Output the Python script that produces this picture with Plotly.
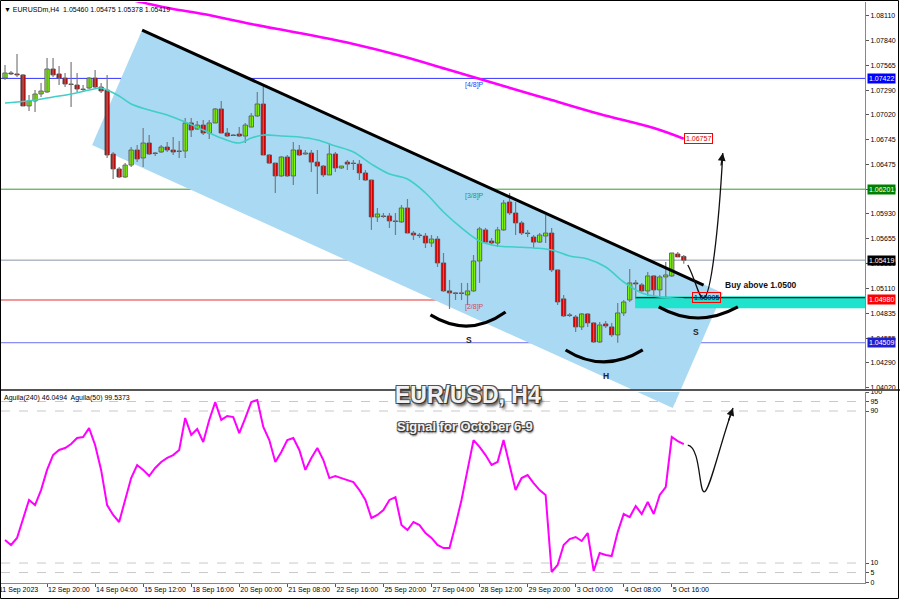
import plotly.graph_objects as go

# ---------------- data ----------------
bar_index = list(range(114))
opens = [1.07426,1.07482,1.07471,1.07460,1.07118,1.07173,1.07250,1.07272,1.07526,1.07471,
         1.07426,1.07360,1.07349,1.07305,1.07316,1.07426,1.07327,1.07294,1.06589,1.06424,
         1.06335,1.06467,1.06633,1.06545,1.06710,1.06600,1.06611,1.06666,1.06633,1.06622,
         1.06622,1.06931,1.06864,1.06908,1.06820,1.06931,1.07085,1.06820,1.06798,1.06809,
         1.06787,1.06886,1.07008,1.07140,1.06578,1.06489,1.06347,1.06556,1.06347,1.06633,
         1.06589,1.06600,1.06500,1.06456,1.06358,1.06589,1.06435,1.06500,1.06489,1.06478,
         1.06380,1.06302,1.05895,1.05906,1.05906,1.05851,1.05840,1.05994,1.05718,1.05696,
         1.05685,1.05608,1.05652,1.05388,1.05080,1.05058,1.05058,1.05036,1.05080,1.05410,
         1.05752,1.05630,1.05608,1.05752,1.06060,1.05939,1.05829,1.05718,1.05674,1.05618,
         1.05685,1.05718,1.05311,1.04992,1.04815,1.04793,1.04683,1.04826,1.04727,1.04517,
         1.04716,1.04683,1.04595,1.04837,1.04980,1.05168,1.05146,1.05080,1.05245,1.05091,
         1.05234,1.05245,1.05487,1.05460]
highs = [1.07570,1.07504,1.07691,1.07470,1.07239,1.07294,1.07371,1.07647,1.07647,1.07559,
         1.07482,1.07603,1.07482,1.07349,1.07437,1.07515,1.07371,1.07460,1.06611,1.06446,
         1.06489,1.06666,1.06688,1.06875,1.06798,1.06611,1.06688,1.06721,1.06776,1.06732,
         1.06986,1.06986,1.06953,1.06964,1.06964,1.07096,1.07173,1.06875,1.06809,1.06886,
         1.06931,1.07041,1.07272,1.07360,1.06589,1.06489,1.06567,1.06578,1.06721,1.06688,
         1.06633,1.06633,1.06633,1.06467,1.06710,1.06611,1.06456,1.06522,1.06522,1.06522,
         1.06412,1.06302,1.05994,1.05939,1.05939,1.05939,1.06027,1.06093,1.05741,1.05718,
         1.05718,1.05696,1.05685,1.05498,1.05201,1.05069,1.05168,1.05168,1.05476,1.05785,
         1.05774,1.05663,1.05785,1.06082,1.06159,1.06060,1.05851,1.05752,1.05696,1.05718,
         1.05917,1.05774,1.05311,1.05036,1.04837,1.04815,1.04837,1.04837,1.04738,1.04738,
         1.04749,1.04727,1.04947,1.04980,1.05322,1.05201,1.05168,1.05289,1.05256,1.05256,
         1.05399,1.05498,1.05509,1.05475]
lows = [1.07404,1.07460,1.07437,1.07118,1.07063,1.07052,1.07217,1.07265,1.07437,1.07349,
        1.07327,1.07107,1.07272,1.07272,1.07305,1.07316,1.07261,1.06545,1.06313,1.06324,
        1.06324,1.06446,1.06500,1.06446,1.06578,1.06567,1.06600,1.06611,1.06578,1.06545,
        1.06545,1.06776,1.06853,1.06798,1.06754,1.06931,1.06820,1.06776,1.06787,1.06776,
        1.06710,1.06886,1.06997,1.06578,1.06478,1.06159,1.06335,1.06335,1.06247,1.06567,
        1.06578,1.06391,1.06148,1.06335,1.06358,1.06391,1.06424,1.06412,1.06412,1.06302,
        1.06291,1.05752,1.05840,1.05884,1.05774,1.05696,1.05829,1.05718,1.05641,1.05663,
        1.05553,1.05564,1.05344,1.05069,1.04881,1.04980,1.04980,1.04925,1.05069,1.05168,
        1.05608,1.05586,1.05564,1.05741,1.05917,1.05696,1.05696,1.05674,1.05553,1.05608,
        1.05608,1.05289,1.04925,1.04793,1.04793,1.04628,1.04650,1.04683,1.04509,1.04506,
        1.04672,1.04573,1.04509,1.04804,1.04958,1.05003,1.05069,1.05025,1.05014,1.05014,
        1.05003,1.05234,1.05454,1.05378]
closes = [1.07482,1.07471,1.07460,1.07118,1.07173,1.07250,1.07283,1.07526,1.07460,1.07426,
          1.07360,1.07355,1.07305,1.07300,1.07426,1.07327,1.07283,1.06578,1.06424,1.06335,
          1.06467,1.06633,1.06534,1.06710,1.06589,1.06595,1.06666,1.06633,1.06611,1.06617,
          1.06931,1.06853,1.06908,1.06820,1.06931,1.07085,1.06820,1.06787,1.06793,1.06787,
          1.06908,1.07008,1.07140,1.06578,1.06489,1.06347,1.06556,1.06347,1.06633,1.06578,
          1.06600,1.06500,1.06456,1.06358,1.06589,1.06435,1.06456,1.06478,1.06484,1.06380,
          1.06302,1.05895,1.05928,1.05900,1.05851,1.05845,1.05994,1.05718,1.05696,1.05690,
          1.05608,1.05652,1.05388,1.05080,1.05058,1.05052,1.05052,1.05080,1.05410,1.05763,
          1.05618,1.05608,1.05752,1.06049,1.05939,1.05829,1.05718,1.05712,1.05618,1.05696,
          1.05718,1.05311,1.04958,1.04804,1.04810,1.04683,1.04826,1.04727,1.04517,1.04705,
          1.04694,1.04595,1.04837,1.04958,1.05168,1.05157,1.05080,1.05245,1.05091,1.05234,
          1.05256,1.05498,1.05454,1.05419]

# moving average (teal) read at selected bars
ma_bars = [0,2,5,8,11,14,16,17,19,21,24,27,30,33,36,39,41,43,46,49,52,55,58,61,64,67,70,73,76,79,82,85,88,91,94,97,100,103,106,109,113]
ma_vals = [1.07151,1.07162,1.07184,1.07217,1.07250,1.07294,1.07316,1.07294,1.07228,1.07140,
           1.07074,1.07019,1.06942,1.06853,1.06765,1.06710,1.06765,1.06798,1.06787,1.06776,
           1.06743,1.06677,1.06611,1.06478,1.06369,1.06313,1.06159,1.05950,1.05774,1.05630,
           1.05575,1.05564,1.05553,1.05531,1.05465,1.05432,1.05344,1.05178,1.05058,1.05014,1.04992]

# long moving average (magenta)
lma_bars = [19,24,28,33,41,49,58,66,74,83,91,99,108,113]
lma_vals = [1.08319,1.08242,1.08187,1.08132,1.08021,1.07922,1.07801,1.07669,1.07515,1.07338,
            1.07184,1.07030,1.06875,1.06757]

# oscillator (Aguila), one value per bar
osc_vals = [22.1,19.5,23.2,32.6,43.2,40.5,48.4,59.0,66.8,69.5,
            70.5,72.6,75.8,76.3,81.0,72.1,59.0,40.5,35.3,31.6,
            43.2,54.7,61.6,59.0,55.8,60.0,63.2,65.3,66.8,69.5,
            86.3,77.4,80.5,73.7,85.3,94.7,85.3,87.4,86.8,78.4,
            86.3,94.7,95.8,81.6,74.7,63.2,68.4,74.7,75.8,69.5,
            59.0,65.3,70.5,64.2,54.7,55.8,54.7,53.7,52.6,48.4,
            43.2,33.7,35.3,37.9,43.2,44.7,30.0,27.4,31.6,30.0,
            25.8,23.2,19.5,17.9,17.9,30.0,43.2,59.0,74.7,71.1,
            66.8,61.6,63.2,74.7,61.6,48.4,54.7,56.3,52.1,48.4,
            45.8,5.3,9.0,19.5,22.6,23.7,21.6,25.8,5.8,15.3,
            14.2,13.7,26.3,35.8,34.2,40.0,35.8,42.1,35.8,45.8,
            50.0,76.3,74.2,72.6]

price_ticks = [1.08110,1.07840,1.07565,1.07290,1.07020,1.06745,1.06475,1.06200,1.05930,
               1.05655,1.05380,1.05110,1.04835,1.04555,1.04290,1.04020]
osc_ticks = [0,5,10,90,95,100]
date_labels = ["12 Sep 20:00","14 Sep 04:00","15 Sep 12:00","18 Sep 16:00","20 Sep 00:00",
               "21 Sep 08:00","22 Sep 16:00","25 Sep 20:00","27 Sep 04:00","28 Sep 12:00",
               "29 Sep 20:00","3 Oct 00:00","4 Oct 08:00","5 Oct 16:00"]
date_bars = [7 + 8 * k for k in range(len(date_labels))]

levels = [  # value, label colour, line colour
    (1.07422, "#0000ff", "#3333ff"),
    (1.06201, "#008000", "#339933"),
    (1.05419, "#000000", "#8a93a6"),
    (1.04980, "#ff0000", "#e53030"),
    (1.04509, "#1f1fd0", "#7070f0"),
]
murrey = [(1.07422, "[4/8]P", "#3333ff"), (1.06201, "[3/8]P", "#339933"), (1.04980, "[2/8]P", "#d05050")]
buy_level = 1.05005
zone = (1.04890, 1.05022)
ma_end = 1.06757

# ---------------- layout helpers ----------------
FONT = "Liberation Sans"
W, H = 900, 600
ML, MR, MT, MB = 1, 35, 2, 17
PW, PH = W - ML - MR, H - MT - MB


def px(x):
    return (x - ML) / PW


def py(y):
    return (H - MB - y) / PH


X_RANGE = [-0.667, 143.17]
Y_RANGE = [1.03999, 1.08264]
O_RANGE = [-0.5, 100]

fig = go.Figure()

# candle wicks
wx, wy = [], []
for i, h, l in zip(bar_index, highs, lows):
    wx += [i, i, None]
    wy += [h, l, None]
fig.add_trace(go.Scatter(x=wx, y=wy, mode="lines", line=dict(color="#7a7a7a", width=1.2),
                         xaxis="x", yaxis="y", showlegend=False, hoverinfo="skip"))
# candle bodies
body_base = [min(o, c) for o, c in zip(opens, closes)]
body_len = [max(abs(c - o), 0.000025) for o, c in zip(opens, closes)]
body_col = ["#7cfc00" if c > o else "#d40000" for o, c in zip(opens, closes)]
fig.add_trace(go.Bar(x=bar_index, y=body_len, base=body_base, width=0.72, marker=dict(color=body_col,
                     line=dict(color="#4a4a4a", width=0.8)), xaxis="x", yaxis="y",
                     showlegend=False, hoverinfo="skip"))

fig.add_trace(go.Scatter(x=ma_bars, y=ma_vals, mode="lines", line=dict(color="#3fcfc6", width=1.6, shape="spline"),
                         xaxis="x", yaxis="y", showlegend=False, hoverinfo="skip"))
fig.add_trace(go.Scatter(x=lma_bars, y=lma_vals, mode="lines", line=dict(color="#ff00ff", width=2.6, shape="spline"),
                         xaxis="x", yaxis="y", showlegend=False, hoverinfo="skip"))
fig.add_trace(go.Scatter(x=bar_index, y=osc_vals, mode="lines", line=dict(color="#ff00ff", width=2),
                         xaxis="x2", yaxis="y2", showlegend=False, hoverinfo="skip"))

shapes = []
# channel (drawn in background), anchors in (bar, price)
chan = [(22.83, 1.07955), (119.5, 1.05057), (111.17, 1.03790), (14.5, 1.06688)]
path = "M " + " L ".join(f"{b},{p}" for b, p in chan) + " Z"
shapes.append(dict(type="path", path=path, xref="x", yref="y", fillcolor="#a9d9f3", line=dict(width=0), layer="below"))


def osc_from_price(p):
    # same drawing continued into the lower pane
    ypx = (1.08286 - p) / 0.0001102
    return (582 - ypx) / 1.9


path2 = "M " + " L ".join(f"{b},{osc_from_price(p)}" for b, p in chan) + " Z"
shapes.append(dict(type="path", path=path2, xref="x2", yref="y2", fillcolor="#a9d9f3", line=dict(width=0), layer="below"))

# zone
shapes.append(dict(type="rect", xref="x", yref="y", x0=104.9, x1=X_RANGE[1], y0=zone[0], y1=zone[1],
                   fillcolor="#1fe3cc", line=dict(width=0), layer="below"))
# horizontal levels
for v, _, lc in levels:
    shapes.append(dict(type="line", xref="paper", x0=0, x1=1, yref="y", y0=v, y1=v,
                       line=dict(color=lc, width=1), layer="below"))
shapes.append(dict(type="line", xref="x", x0=104.9, x1=X_RANGE[1], yref="y", y0=buy_level, y1=buy_level,
                   line=dict(color="#000000", width=1), layer="below"))
# oscillator levels
for v in [5, 10, 90, 95]:
    shapes.append(dict(type="line", xref="paper", x0=0, x1=1, yref="y2", y0=v, y1=v,
                       line=dict(color="#c8c8c8", width=1, dash="dash"), layer="below"))

# trend line
shapes.append(dict(type="line", xref="x", yref="y", x0=22.83, y0=1.07955, x1=116.3, y1=1.05145,
                   line=dict(color="#000000", width=3)))
# arcs under shoulders / head
arcs = [((70.83, 1.04815), (77.17, 1.04556), (83.33, 1.04848)),
        ((93.33, 1.04429), (99.67, 1.04165), (106.17, 1.04429)),
        ((108.83, 1.04903), (115.33, 1.04660), (122.0, 1.04903))]
for a, c, b in arcs:
    shapes.append(dict(type="path", xref="x", yref="y",
                       path=f"M {a[0]},{a[1]} Q {c[0]},{c[1]} {b[0]},{b[1]}",
                       line=dict(color="#000000", width=3.2)))
# projected path (price)
shapes.append(dict(type="path", xref="x", yref="y",
                   path="M 113.67,1.05365 C 115,1.05200 115.5,1.04990 116.3,1.05000 C 117.5,1.05010 118.8,1.05750 119.5,1.06600",
                   line=dict(color="#111111", width=1.3)))
# projected path (oscillator)
shapes.append(dict(type="path", xref="x2", yref="y2",
                   path="M 113.67,72.1 C 115.8,71.0 115.5,47.4 116.4,47.4 C 117.3,47.4 119.2,74.7 121.2,91.6",
                   line=dict(color="#111111", width=1.3)))

# frame / separators
shapes.append(dict(type="line", xref="paper", yref="paper", x0=px(0), x1=px(900), y0=py(390), y1=py(390),
                   line=dict(color="#555555", width=2)))
shapes.append(dict(type="rect", xref="paper", yref="paper", x0=px(0.5), x1=px(898.5), y0=py(0.5), y1=py(598.5),
                   line=dict(color="#000000", width=1)))

ann = []
ann.append(dict(xref="paper", yref="paper", x=px(2), y=py(9), xanchor="left", yanchor="middle",
                text="▼ EURUSDm,H4  1.05460 1.05475 1.05378 1.05419", showarrow=False,
                font=dict(size=7, color="#000000", family=FONT)))
ann.append(dict(xref="paper", yref="paper", x=px(2), y=py(398), xanchor="left", yanchor="middle",
                text="Aguila(240) 46.0494  Aguila(50) 99.5373", showarrow=False,
                font=dict(size=7, color="#000000", family=FONT)))
for v, bg, _ in levels:
    ann.append(dict(xref="paper", x=1, xanchor="left", xshift=2, yref="y", y=v, yanchor="middle",
                    text=f"{v:.5f}", showarrow=False, bgcolor=bg, borderpad=1,
                    font=dict(size=7, color="#ffffff", family=FONT)))
for v, t, c in murrey:
    ann.append(dict(xref="x", x=76.2, xanchor="left", yref="y", y=v, yanchor="top", yshift=-1,
                    text=t, showarrow=False, font=dict(size=7, color=c, family=FONT)))
ann.append(dict(xref="x", x=115.5, yref="y", y=ma_end, text=f"{ma_end:.5f}", showarrow=False,
                bordercolor="#ff0000", borderwidth=1, borderpad=1, bgcolor="#ffffff",
                font=dict(size=7, color="#cc0000", family=FONT)))
ann.append(dict(xref="x", x=116.8, yref="y", y=buy_level, text=f"{buy_level:.5f}", showarrow=False,
                bordercolor="#ff0000", borderwidth=1, borderpad=1,
                font=dict(size=7, color="#000066", family=FONT)))
ann.append(dict(xref="x", x=119.6, yref="y", y=1.05140, xanchor="left", text="<b>Buy above 1.0500</b>",
                showarrow=False, font=dict(size=8.5, color="#111111", family=FONT)))
for xb, pv, t in [(77.17, 1.04539, "S"), (100.0, 1.04142, "H"), (115.0, 1.04627, "S")]:
    ann.append(dict(xref="x", x=xb, yref="y", y=pv, text=f"<b>{t}</b>", showarrow=False,
                    font=dict(size=8.5, color="#222222", family=FONT)))
# arrowheads
ann.append(dict(xref="x", yref="y", x=119.5, y=1.06600, ax=-2, ay=14, text="", showarrow=True,
                arrowhead=2, arrowsize=1.2, arrowwidth=1.3, arrowcolor="#111111"))
ann.append(dict(xref="x2", yref="y2", x=121.2, y=91.6, ax=-5, ay=14, text="", showarrow=True,
                arrowhead=2, arrowsize=1.2, arrowwidth=1.3, arrowcolor="#111111"))
# title
shadow = "1px 1px 0 #333, -1px -1px 0 #555, 1px -1px 0 #555, -1px 1px 0 #555, 2px 3px 3px #444"
ann.append(dict(xref="paper", yref="paper", x=px(468), y=py(410), text="<b>EUR/USD, H4</b>", showarrow=False,
                font=dict(size=23, color="#f2f2f2", family=FONT, shadow=shadow)))
ann.append(dict(xref="paper", yref="paper", x=px(465), y=py(436), text="<b>Signal for October 6-9</b>",
                showarrow=False, font=dict(size=13, color="#f2f2f2", family=FONT,
                                           shadow="1px 1px 0 #333, -1px -1px 0 #555, 1px -1px 0 #555, -1px 1px 0 #555, 1px 2px 2px #444")))
ann.append(dict(xref="paper", yref="paper", x=px(-3), y=py(590), xanchor="left", yanchor="middle",
                text="11 Sep 2023", showarrow=False, font=dict(size=7, color="#000000", family=FONT)))

axis_common = dict(showgrid=False, zeroline=False, automargin=False, fixedrange=True)
fig.update_layout(
    width=W, height=H, margin=dict(l=ML, r=MR, t=MT, b=MB, autoexpand=False),
    paper_bgcolor="#ffffff", plot_bgcolor="#ffffff", font=dict(family=FONT, size=7, color="#000000"),
    showlegend=False, shapes=shapes, annotations=ann, hovermode=False, barmode="overlay", bargap=0,
    xaxis=dict(domain=[0, 1], range=X_RANGE, anchor="y", showticklabels=False, showline=False, **axis_common),
    yaxis=dict(domain=[py(389), 1], range=Y_RANGE, side="right", anchor="x", tickvals=price_ticks,
               ticktext=[f"{v:.5f}" for v in price_ticks], ticks="outside", ticklen=3, tickcolor="#555555",
               showline=True, linecolor="#888888", linewidth=1,
               tickfont=dict(size=7, family=FONT, color="#000000"), **axis_common),
    xaxis2=dict(domain=[0, 1], range=X_RANGE, anchor="y2", tickvals=date_bars, ticktext=date_labels,
                ticks="outside", ticklen=3, tickcolor="#555555", ticklabelposition="outside right", tickangle=0,
                showline=True, linecolor="#888888", linewidth=1,
                tickfont=dict(size=7, family=FONT, color="#000000"), **axis_common),
    yaxis2=dict(domain=[0, py(392)], range=O_RANGE, side="right", anchor="x2", tickvals=osc_ticks,
                ticktext=[str(v) for v in osc_ticks], ticks="outside", ticklen=3, tickcolor="#555555",
                showline=True, linecolor="#888888", linewidth=1,
                tickfont=dict(size=7, family=FONT, color="#000000"), **axis_common),
)

fig.write_html("out.html", config={"displayModeBar": False, "staticPlot": True},
               post_script="document.body.style.margin='0';document.body.style.overflow='hidden';")
